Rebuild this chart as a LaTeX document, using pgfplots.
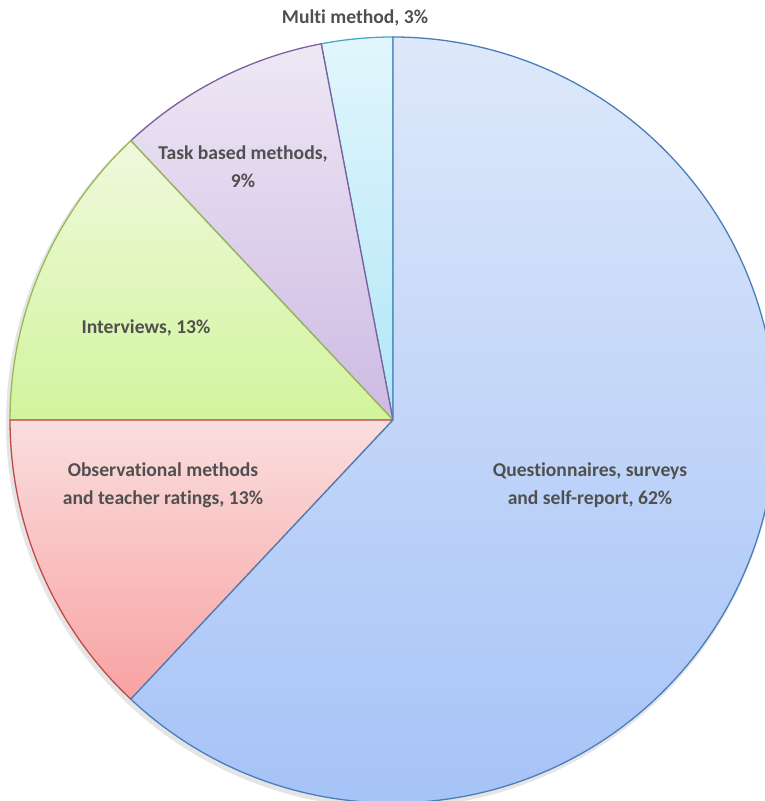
\documentclass[border=0pt]{standalone}
\usepackage{pgfplots}
\pgfplotsset{compat=1.18}
\usepackage{pgfplotstable}
\usepackage{fontspec}
\setmainfont{Carlito}[Ligatures=NoCommon]
\definecolor{labelgray}{HTML}{505050}
\definecolor{qline}{HTML}{4A7EBB}
\definecolor{qtop}{HTML}{DEE8FA}
\definecolor{qbot}{HTML}{A3C1F7}
\definecolor{oline}{HTML}{BE4B48}
\definecolor{otop}{HTML}{FADEDE}
\definecolor{obot}{HTML}{F8A2A2}
\definecolor{iline}{HTML}{98B954}
\definecolor{itop}{HTML}{EFF9DD}
\definecolor{ibot}{HTML}{D2F49C}
\definecolor{tline}{HTML}{7D60A0}
\definecolor{ttop}{HTML}{EEE8F5}
\definecolor{tbot}{HTML}{CDBAE3}
\definecolor{mline}{HTML}{46AAC5}
\definecolor{mtop}{HTML}{E2F6FC}
\definecolor{mbot}{HTML}{B0E6F6}

% shares in percent, counter-clockwise from 12 o'clock
\pgfplotstableread[col sep=comma]{
name,value
Multi method,3
Task based methods,9
Interviews,13
Observational methods,13
Questionnaires,62
}\piedata

\begin{document}
\begin{tikzpicture}
\pgfplotstablegetelem{0}{value}\of\piedata \let\vA\pgfplotsretval
\pgfplotstablegetelem{1}{value}\of\piedata \let\vB\pgfplotsretval
\pgfplotstablegetelem{2}{value}\of\piedata \let\vC\pgfplotsretval
\pgfplotstablegetelem{3}{value}\of\piedata \let\vD\pgfplotsretval
\pgfplotstablegetelem{4}{value}\of\piedata \let\vE\pgfplotsretval
\pgfmathsetmacro\aA{90}
\pgfmathsetmacro\aB{\aA+3.6*\vA}
\pgfmathsetmacro\aC{\aB+3.6*\vB}
\pgfmathsetmacro\aD{\aC+3.6*\vC}
\pgfmathsetmacro\aE{\aD+3.6*\vD}
\pgfmathsetmacro\aF{\aE+3.6*\vE}
\def\R{383pt}
\begin{axis}[
    width=765pt, height=801pt,
    scale only axis,
    xmin=0, xmax=765, ymin=0, ymax=801,
    hide axis,
    clip=true,
    ]
    % soft shadow
    \fill[black, opacity=0.10] (axis cs:391,378) circle[radius=385pt];
    \path[draw=mline, line width=1.3pt, top color=mtop, bottom color=mbot]
        (axis cs:393,381) -- ++(\aA:\R) arc[start angle=\aA, end angle=\aB, radius=\R] -- cycle;
    \path[draw=tline, line width=1.3pt, top color=ttop, bottom color=tbot]
        (axis cs:393,381) -- ++(\aB:\R) arc[start angle=\aB, end angle=\aC, radius=\R] -- cycle;
    \path[draw=iline, line width=1.3pt, top color=itop, bottom color=ibot]
        (axis cs:393,381) -- ++(\aC:\R) arc[start angle=\aC, end angle=\aD, radius=\R] -- cycle;
    \path[draw=oline, line width=1.3pt, top color=otop, bottom color=obot]
        (axis cs:393,381) -- ++(\aD:\R) arc[start angle=\aD, end angle=\aE, radius=\R] -- cycle;
    \path[draw=qline, line width=1.3pt, top color=qtop, bottom color=qbot]
        (axis cs:393,381) -- ++(\aE:\R) arc[start angle=\aE, end angle=\aF, radius=\R] -- cycle;

    \begin{scope}[every node/.style={font=\fontsize{19.6}{28}\selectfont\bfseries,
        text=labelgray, align=center, inner sep=0pt}]
    \node at (axis cs:355,783) {Multi method, 3\%};
    \node at (axis cs:243,634) {Task based methods,\\9\%};
    \node at (axis cs:146,473) {Interviews, 13\%};
    \node at (axis cs:163,316) {Observational methods\\and teacher ratings, 13\%};
    \node at (axis cs:590,316) {Questionnaires, surveys\\and self-report, 62\%};
    \end{scope}
\end{axis}
\pgfresetboundingbox
\useasboundingbox (current axis.south west) rectangle (current axis.north east);
\end{tikzpicture}
\end{document}
